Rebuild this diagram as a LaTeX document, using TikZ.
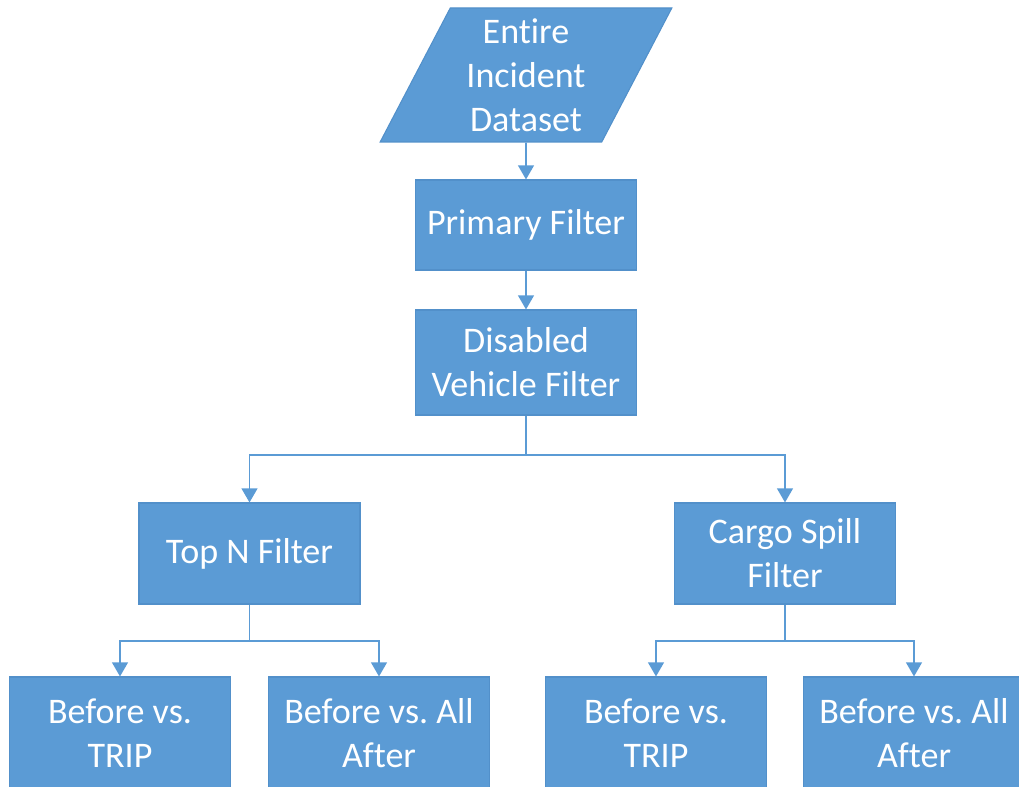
\documentclass[tikz,border=0pt]{standalone}
\usepackage{fontspec}
\setmainfont{Carlito}[Ligatures={NoCommon}]
\usetikzlibrary{arrows.meta,shapes.geometric}
\definecolor{flowblue}{RGB}{91,155,213}
\definecolor{flowedge}{RGB}{82,144,202}
\frenchspacing
\tikzset{
  box/.style={rectangle,fill=flowblue,draw=flowedge,line width=0.6pt,text=white,
    minimum width=4.42cm,align=center,inner sep=0pt,font=\fontsize{20.5}{25}\selectfont},
  dataset/.style={trapezium,trapezium left angle=64,trapezium right angle=116,
    trapezium stretches=true,minimum width=5.84cm,minimum height=2.68cm,
    fill=flowblue,draw=flowedge,line width=0.6pt,text=white,align=center,
    inner sep=0pt,font=\fontsize{20.5}{25}\selectfont},
  link/.style={draw=flowblue,line width=0.9pt,-{Triangle[width=9pt,length=8pt]}},
  split/.style={draw=flowblue,line width=0.9pt},
}
\begin{document}
\begin{tikzpicture}
\clip (0,0) rectangle (20.38,-15.74);
\node[dataset] (ds) at (10.52,-1.50) {Entire\\Incident\\Dataset};
\node[box,minimum height=1.80cm] (prim) at (10.52,-4.50) {Primary Filter};
\node[box,minimum height=2.10cm] (dis) at (10.52,-7.25) {Disabled\\Vehicle Filter};
\node[box,minimum height=2.02cm] (topn) at (4.99,-11.07) {Top N Filter};
\node[box,minimum height=2.02cm] (cargo) at (15.70,-11.07) {Cargo Spill\\Filter};
\node[box,minimum height=2.24cm] (tripa) at (2.40,-14.66) {Before vs.\\TRIP};
\node[box,minimum height=2.24cm] (alla) at (7.58,-14.66) {Before vs. All\\After};
\node[box,minimum height=2.24cm] (tripb) at (13.12,-14.66) {Before vs.\\TRIP};
\node[box,minimum height=2.24cm] (allb) at (18.28,-14.66) {Before vs. All\\After};
\coordinate (fork) at (10.52,-9.10);
\coordinate (forka) at (4.99,-12.82);
\coordinate (forkb) at (15.70,-12.82);
\draw[link] (ds.south) -- (prim.north);
\draw[link] (prim.south) -- (dis.north);
\draw[split] (dis.south) -- (fork);
\draw[link] (fork) -| (topn.north);
\draw[link] (fork) -| (cargo.north);
\draw[split] (topn.south) -- (forka);
\draw[link] (forka) -| (tripa.north);
\draw[link] (forka) -| (alla.north);
\draw[split] (cargo.south) -- (forkb);
\draw[link] (forkb) -| (tripb.north);
\draw[link] (forkb) -| (allb.north);
\end{tikzpicture}
\end{document}
